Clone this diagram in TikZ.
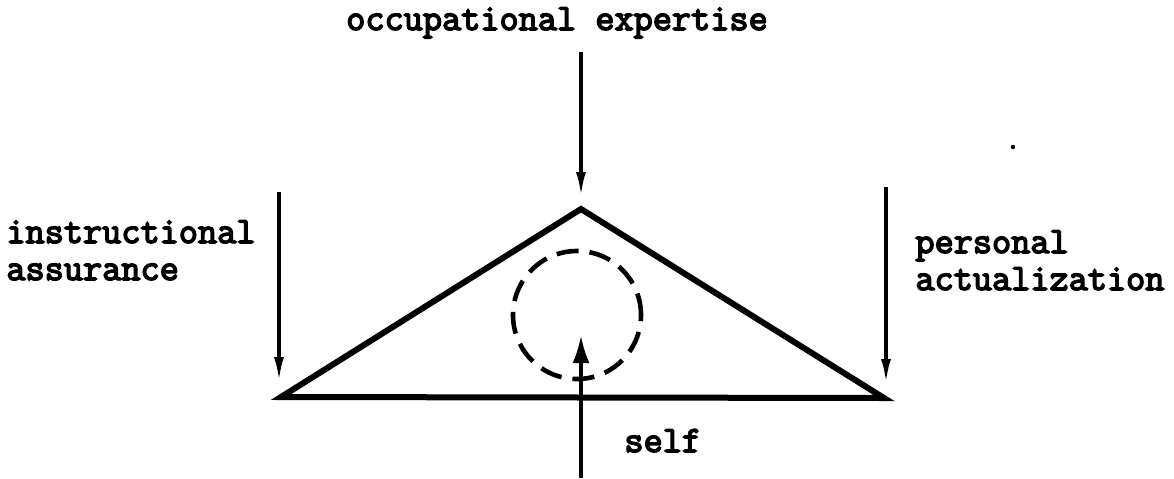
\documentclass[tikz,border=0pt]{standalone}
\usepackage{fontspec}
\newfontfamily\typew{Latin Modern Mono}[FakeBold=4]
\usetikzlibrary{arrows.meta}
\tikzset{
  lbl/.style={font=\typew\fontsize{18.6}{22}\selectfont, inner sep=0pt},
  sidearrow/.style={line width=1.6pt, -{Latex[length=12pt,width=5pt]}},
  selfarrow/.style={line width=2pt, -{Latex[length=14pt,width=8.5pt]}},
  triline/.style={line width=3pt, line join=miter},
  dcirc/.style={line width=2.3pt, dash pattern=on 11pt off 5.5pt},
}
\begin{document}
\begin{tikzpicture}[x=0.5pt,y=-0.5pt]
\useasboundingbox (0,0) rectangle (1174,478);
% labels
\node[lbl, anchor=base] (occ) at (557,30) {occupational expertise};
\node[lbl, anchor=base west] (ins1) at (6,243) {instructional};
\node[lbl, anchor=base west] (ins2) at (6,280) {assurance};
\node[lbl, anchor=base west] (per1) at (915,253) {personal};
\node[lbl, anchor=base west] (per2) at (915,290) {actualization};
\node[lbl, anchor=base west] (self) at (624,452) {self};
% triangle
\coordinate (apex) at (581,209);
\coordinate (bl) at (281,397);
\coordinate (br) at (884,398);
\draw[triline] (apex) -- (bl) -- (br) -- cycle;
% dashed circle
\node[draw, dcirc, circle, minimum size=128*0.5pt, inner sep=0pt] (selfcirc) at (577,315) {};
% arrows
\coordinate (topS) at (581,52);
\coordinate (topE) at (581,196);
\draw[sidearrow] (topS) -- (topE);
\coordinate (leftS) at (279,192);
\coordinate (leftE) at (279,381);
\draw[sidearrow] (leftS) -- (leftE);
\coordinate (rightS) at (886,187);
\coordinate (rightE) at (886,383);
\draw[sidearrow] (rightS) -- (rightE);
\coordinate (botS) at (581,478);
\coordinate (botE) at (581,335);
\draw[selfarrow] (botS) -- (botE);
% stray dot
\fill (1013,147) circle (1.1pt);
\end{tikzpicture}
\end{document}
